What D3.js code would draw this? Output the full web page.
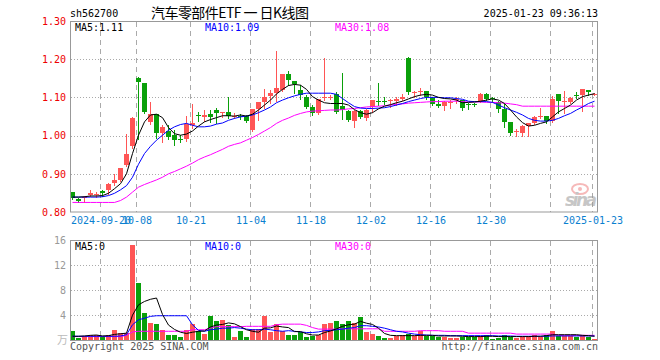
<!DOCTYPE html>
<html>
<head>
<meta charset="utf-8">
<script src="https://cdn.jsdelivr.net/npm/d3@7"></script>
<style>
  body { margin: 0; background: #fff; }
  svg { display: block; }
  text { font-family: "DejaVu Sans Mono", monospace; font-size: 10px; }
</style>
</head>
<body>
<div id="chart"></div>
<script>
// trading days shown on the chart
const dates = [
  "2024-09-12","2024-09-13","2024-09-18","2024-09-19","2024-09-20","2024-09-23","2024-09-24","2024-09-25","2024-09-26","2024-09-27",
  "2024-09-30","2024-10-08","2024-10-09","2024-10-10","2024-10-11","2024-10-14","2024-10-15","2024-10-16","2024-10-17","2024-10-18",
  "2024-10-21","2024-10-22","2024-10-23","2024-10-24","2024-10-25","2024-10-28","2024-10-29","2024-10-30","2024-10-31","2024-11-01",
  "2024-11-04","2024-11-05","2024-11-06","2024-11-07","2024-11-08","2024-11-11","2024-11-12","2024-11-13","2024-11-14","2024-11-15",
  "2024-11-18","2024-11-19","2024-11-20","2024-11-21","2024-11-22","2024-11-25","2024-11-26","2024-11-27","2024-11-28","2024-11-29",
  "2024-12-02","2024-12-03","2024-12-04","2024-12-05","2024-12-06","2024-12-09","2024-12-10","2024-12-11","2024-12-12","2024-12-13",
  "2024-12-16","2024-12-17","2024-12-18","2024-12-19","2024-12-20","2024-12-23","2024-12-24","2024-12-25","2024-12-26","2024-12-27",
  "2024-12-30","2024-12-31","2025-01-02","2025-01-03","2025-01-06","2025-01-07","2025-01-08","2025-01-09","2025-01-10","2025-01-13",
  "2025-01-14","2025-01-15","2025-01-16","2025-01-17","2025-01-20","2025-01-21","2025-01-22","2025-01-23"
];

const open = [
  0.852,0.834,0.838,0.844,0.844,0.856,0.857,0.875,0.884,0.924,
  0.973,1.152,1.138,1.035,1.056,1.007,1.011,1.001,0.992,0.990,
  1.029,1.053,1.050,1.056,1.066,1.059,1.061,1.050,1.052,1.051,
  1.014,1.069,1.088,1.103,1.112,1.119,1.161,1.143,1.119,1.102,
  1.075,1.058,1.098,1.099,1.109,1.077,1.064,1.038,1.064,1.045,
  1.076,1.091,1.091,1.090,1.090,1.096,1.204,1.114,1.114,1.117,
  1.099,1.083,1.077,1.088,1.095,1.093,1.083,1.082,1.090,1.110,
  1.098,1.089,1.070,1.035,1.009,1.008,1.025,1.032,1.050,1.051,
  1.038,1.109,1.088,1.089,1.107,1.106,1.119,1.108
];
const high = [
  0.853,0.836,0.841,0.857,0.852,0.857,0.875,0.900,0.916,1.003,
  1.048,1.153,1.139,1.087,1.057,1.027,1.027,1.014,1.001,1.051,
  1.082,1.062,1.067,1.067,1.071,1.062,1.100,1.058,1.056,1.053,
  1.069,1.089,1.122,1.119,1.222,1.161,1.170,1.143,1.132,1.106,
  1.080,1.095,1.204,1.106,1.115,1.163,1.066,1.067,1.067,1.069,
  1.093,1.139,1.101,1.097,1.101,1.108,1.205,1.116,1.124,1.118,
  1.100,1.092,1.090,1.093,1.100,1.094,1.086,1.085,1.111,1.111,
  1.102,1.090,1.084,1.036,1.018,1.029,1.033,1.052,1.071,1.052,
  1.104,1.110,1.117,1.100,1.115,1.123,1.120,1.112
];
const low = [
  0.835,0.826,0.826,0.842,0.838,0.842,0.847,0.870,0.880,0.920,
  0.968,0.990,1.058,1.030,0.994,0.983,0.992,0.976,0.983,0.987,
  1.020,1.038,1.037,1.036,1.034,1.049,1.046,1.045,1.043,1.035,
  1.011,1.040,1.073,1.085,1.090,1.117,1.132,1.112,1.097,1.071,
  1.053,1.056,1.093,1.096,1.058,1.043,1.037,1.023,1.045,1.040,
  1.062,1.080,1.083,1.075,1.080,1.093,1.110,1.101,1.106,1.096,
  1.080,1.074,1.068,1.071,1.085,1.066,1.070,1.077,1.089,1.092,
  1.087,1.062,1.023,1.001,1.000,1.000,0.999,1.030,1.045,1.032,
  1.036,1.058,1.058,1.085,1.098,1.064,1.106,1.106
];
const close = [
  0.836,0.828,0.840,0.850,0.848,0.849,0.874,0.884,0.915,0.952,
  1.047,1.140,1.063,1.056,1.008,1.023,0.996,0.988,0.991,1.031,
  1.034,1.051,1.053,1.049,1.058,1.061,1.052,1.051,1.050,1.037,
  1.069,1.089,1.101,1.112,1.125,1.161,1.146,1.134,1.106,1.075,
  1.058,1.095,1.100,1.102,1.062,1.068,1.040,1.064,1.049,1.067,
  1.093,1.090,1.089,1.092,1.095,1.102,1.115,1.115,1.116,1.102,
  1.083,1.077,1.087,1.089,1.096,1.071,1.081,1.081,1.110,1.097,
  1.097,1.070,1.035,1.008,1.011,1.025,1.032,1.049,1.052,1.038,
  1.096,1.091,1.090,1.099,1.106,1.122,1.115,1.110
];

// price moving averages as drawn
const ma5 = [
  0.839,0.839,0.840,0.842,0.842,0.843,0.849,0.861,0.874,0.900,
  0.953,1.001,1.036,1.054,1.056,1.047,1.021,1.005,1.001,1.004,
  1.012,1.025,1.036,1.042,1.047,1.052,1.052,1.051,1.054,1.051,
  1.056,1.067,1.080,1.093,1.109,1.121,1.131,1.134,1.132,1.121,
  1.102,1.093,1.086,1.084,1.084,1.084,1.080,1.068,1.060,1.056,
  1.060,1.070,1.077,1.081,1.086,1.090,1.096,1.102,1.106,1.108,
  1.106,1.100,1.097,1.096,1.093,1.086,1.087,1.088,1.090,1.093,
  1.096,1.093,1.084,1.067,1.049,1.034,1.025,1.027,1.032,1.036,
  1.049,1.062,1.071,1.080,1.093,1.102,1.106,1.110
];
const ma10 = [
  0.839,0.839,0.839,0.839,0.839,0.840,0.843,0.849,0.858,0.869,
  0.891,0.925,0.953,0.972,0.988,1.001,1.014,1.023,1.029,1.032,
  1.027,1.023,1.023,1.025,1.030,1.033,1.040,1.045,1.049,1.051,
  1.054,1.060,1.067,1.075,1.086,1.093,1.099,1.104,1.108,1.111,
  1.111,1.111,1.111,1.111,1.108,1.097,1.086,1.076,1.072,1.071,
  1.071,1.072,1.073,1.076,1.080,1.084,1.089,1.093,1.097,1.100,
  1.100,1.100,1.099,1.099,1.097,1.095,1.090,1.089,1.089,1.089,
  1.087,1.080,1.073,1.067,1.061,1.054,1.045,1.040,1.038,1.038,
  1.040,1.045,1.052,1.058,1.067,1.075,1.084,1.090
];
const ma30 = [
  0.825,0.825,0.825,0.825,0.825,0.825,0.825,0.825,0.830,0.839,
  0.852,0.865,0.872,0.878,0.884,0.891,0.900,0.906,0.913,0.920,
  0.928,0.937,0.944,0.950,0.957,0.964,0.972,0.977,0.981,0.988,
  0.995,1.003,1.012,1.021,1.032,1.040,1.046,1.053,1.058,1.062,
  1.064,1.065,1.066,1.067,1.067,1.068,1.070,1.071,1.073,1.075,
  1.076,1.077,1.078,1.080,1.082,1.083,1.085,1.086,1.087,1.088,
  1.089,1.089,1.090,1.090,1.090,1.089,1.088,1.088,1.088,1.087,
  1.087,1.086,1.085,1.083,1.081,1.077,1.077,1.077,1.077,1.077,
  1.077,1.077,1.077,1.077,1.077,1.077,1.077,1.077
];

// volume (万手) and its moving averages
const vol = [
  1.4,0.4,0.6,0.85,0.75,0.45,0.85,1.65,1.2,1.2,
  15.25,9.2,4.4,2.8,2.6,1.55,0.75,0.75,0.55,1.65,
  2.55,1.4,1.0,3.9,3.0,3.25,2.45,0.55,1.5,0.55,
  1.7,1.7,3.9,1.25,2.6,1.4,0.8,0.8,1.25,0.55,
  0.6,0.75,2.6,2.7,3.0,2.6,3.1,2.7,3.75,1.35,
  1.0,0.7,0.4,0.4,0.7,0.85,1.0,0.7,1.5,0.7,
  0.7,0.55,0.55,0.4,0.4,0.55,0.55,0.55,0.7,0.85,
  0.2,0.4,0.85,0.55,0.25,0.55,0.7,0.85,0.55,0.85,
  1.5,0.7,0.7,0.7,0.55,0.85,0.55,0.2
];
const vma5 = [
  0.6,0.6,0.65,0.75,0.8,0.65,0.7,0.9,1.0,1.1,
  4.0,5.65,6.2,6.55,6.75,4.1,2.4,1.7,1.25,1.05,
  1.25,1.4,1.45,2.1,2.4,2.5,2.75,2.6,2.15,1.65,
  1.4,1.25,1.9,1.95,2.25,2.1,2.0,1.35,1.35,1.0,
  0.8,0.8,1.2,1.45,1.8,2.2,2.45,2.55,3.0,2.7,
  2.5,1.9,1.05,0.75,0.7,0.7,0.7,0.7,0.75,0.75,
  0.75,0.65,0.65,0.65,0.65,0.6,0.55,0.55,0.55,0.6,
  0.6,0.55,0.55,0.55,0.55,0.55,0.55,0.6,0.6,0.7,
  0.85,0.85,0.85,0.85,0.85,0.75,0.7,0.6
];
const vma10 = [
  0.6,0.6,0.6,0.6,0.6,0.6,0.6,0.6,0.65,0.85,
  2.45,3.25,3.5,3.8,3.9,3.9,3.9,3.9,3.9,3.9,
  2.45,1.55,1.4,1.65,1.75,1.9,1.9,2.0,1.9,1.75,
  1.65,1.65,1.75,1.65,1.5,1.4,1.5,1.4,1.3,1.2,
  1.2,1.3,1.5,1.55,1.65,1.75,1.9,2.0,2.3,2.3,
  2.2,2.1,1.9,1.65,1.4,1.3,1.1,0.95,0.85,0.8,
  0.75,0.75,0.75,0.7,0.7,0.7,0.7,0.7,0.7,0.7,
  0.7,0.65,0.65,0.65,0.6,0.6,0.6,0.6,0.6,0.6,
  0.65,0.65,0.65,0.65,0.65,0.65,0.65,0.65
];
const vma30 = [
  0.55,0.55,0.55,0.55,0.55,0.55,0.55,0.55,0.55,0.75,
  1.3,1.4,1.4,1.4,1.4,1.4,1.4,1.4,1.4,1.4,
  1.65,1.65,1.65,1.9,2.15,2.15,2.15,2.15,2.15,2.2,
  2.2,2.2,2.2,2.2,2.45,2.55,2.55,2.55,2.55,2.35,
  2.0,1.75,1.75,1.75,1.75,1.8,1.8,1.8,1.8,1.8,
  1.8,1.8,1.4,1.4,1.4,1.4,1.4,1.4,1.5,1.5,
  1.5,1.5,1.4,1.4,1.4,1.4,1.1,1.1,1.1,1.1,
  1.1,1.1,1.1,1.1,0.95,0.95,0.95,0.95,0.95,0.95,
  0.95,0.75,0.75,0.75,0.75,0.75,0.75,0.75
];

const priceTicks = [0.8, 0.9, 1.0, 1.1, 1.2, 1.3];
const volTicks = [4, 8, 12, 16];
const gridDates = ["2024-09-23","2024-10-08","2024-10-21","2024-11-04","2024-11-18","2024-12-02","2024-12-16","2024-12-30","2025-01-14","2025-01-23"];
const tickDates = ["2024-09-23","2024-10-08","2024-10-21","2024-11-04","2024-11-18","2024-12-02","2024-12-16","2024-12-30","2025-01-23"];
const tickLabels = ["2024-09-20","10-08","10-21","11-04","11-18","12-02","12-16","12-30","2025-01-23"];

const W = 660, H = 360;
const RED = "#ff5555", GREEN = "#0aa00a";
const svg = d3.select("#chart").append("svg").attr("width", W).attr("height", H);

const x = d3.scalePoint().domain(dates).range([69.5, 597.5]).padding(0.5);
const y = d3.scaleLinear().domain([0.8, 1.3]).range([212, 21]);
const yv = d3.scaleLinear().domain([0, 16]).range([340, 240.5]);
const crisp = v => Math.round(v) + 0.5;
const gx = d => crisp(x(d) - 2.5);

// header
svg.append("text").attr("x", 70).attr("y", 17).text("sh562700");
svg.append("text").attr("x", 151).attr("y", 18).attr("textLength", 158)
  .attr("xml:space", "preserve")
  .style("font-family", '"Noto Sans CJK SC", sans-serif').style("font-size", "14px")
  .text("汽车零部件ETF 一 日K线图");
svg.append("text").attr("x", 598).attr("y", 17).attr("text-anchor", "end").text("2025-01-23 09:36:13");

// ---- price panel ----
const pg = svg.append("g");
pg.selectAll(".hg").data(priceTicks.slice(1, -1)).enter().append("line")
  .attr("x1", 71).attr("x2", 597).attr("y1", d => crisp(y(d))).attr("y2", d => crisp(y(d)))
  .attr("stroke", "#aaa").attr("stroke-dasharray", "1,2");
pg.selectAll(".vg").data(gridDates).enter().append("line")
  .attr("x1", gx).attr("x2", gx).attr("y1", 22).attr("y2", 212)
  .attr("stroke", "#aaa").attr("stroke-dasharray", "5,4");

// sina watermark
const wm = svg.append("g").attr("opacity", 0.55);
wm.append("ellipse").attr("cx", 580).attr("cy", 189).attr("rx", 8).attr("ry", 5)
  .attr("fill", "none").attr("stroke", "#f08080").attr("stroke-width", 2);
wm.append("circle").attr("cx", 580).attr("cy", 189).attr("r", 2).attr("fill", "#f08080");
wm.append("text").attr("x", 565).attr("y", 206).attr("textLength", 32)
  .style("font-family", "DejaVu Sans, sans-serif").style("font-size", "17px")
  .style("font-style", "italic").style("font-weight", "bold").attr("fill", "#999").text("sina");

const yAxis = d3.axisLeft(y).tickValues(priceTicks).tickSize(0).tickPadding(4).tickFormat(d3.format(".2f"));
const ya = svg.append("g").attr("transform", "translate(70,0)").call(yAxis);
ya.select(".domain").remove();
ya.selectAll("text").attr("fill", "#e00").style("font-family", '"DejaVu Sans Mono", monospace').style("font-size", "10px");

const xAxis = d3.axisBottom(x).tickValues(tickDates).tickSize(0).tickPadding(1)
  .tickFormat(d => tickLabels[tickDates.indexOf(d)]);
const xa = svg.append("g").attr("transform", "translate(-2,216)").call(xAxis);
xa.select(".domain").remove();
xa.selectAll("text").attr("fill", "#0a80d0").style("font-family", '"DejaVu Sans Mono", monospace').style("font-size", "10px");

// candles
const idx = d3.range(dates.length);
const cg = svg.append("g");
cg.selectAll("line").data(idx).enter().append("line")
  .attr("x1", i => Math.floor(x(dates[i])) + 0.5).attr("x2", i => Math.floor(x(dates[i])) + 0.5)
  .attr("y1", i => Math.round(y(high[i]))).attr("y2", i => Math.round(y(low[i])) + 1)
  .attr("stroke", i => close[i] >= open[i] ? RED : GREEN);
cg.selectAll("rect").data(idx).enter().append("rect")
  .attr("x", i => Math.round(x(dates[i]) - 2.5)).attr("width", 5)
  .attr("y", i => Math.round(y(Math.max(open[i], close[i]))))
  .attr("height", i => Math.max(1, Math.round(y(Math.min(open[i], close[i]))) - Math.round(y(Math.max(open[i], close[i])))))
  .attr("fill", i => close[i] >= open[i] ? RED : GREEN);

const priceLine = arr => d3.line().x(i => x(dates[i])).y(i => y(arr[i]))(idx);
[[ma30, "#ff00ff"], [ma10, "#0000ff"], [ma5, "#000"]].forEach(([arr, col]) => {
  svg.append("path").attr("d", priceLine(arr)).attr("fill", "none").attr("stroke", col).attr("stroke-width", 1);
});

svg.append("rect").attr("x", 70.5).attr("y", 21.5).attr("width", 527).attr("height", 190.5)
  .attr("fill", "none").attr("stroke", "#999");
svg.append("text").attr("x", 75).attr("y", 31).attr("fill", "#000").text("MA5:1.11");
svg.append("text").attr("x", 205).attr("y", 31).attr("fill", "#0000ff").text("MA10:1.09");
svg.append("text").attr("x", 335).attr("y", 31).attr("fill", "#ff00ff").text("MA30:1.08");

// ---- volume panel ----
svg.selectAll(".vhg").data(volTicks.slice(0, -1)).enter().append("line")
  .attr("x1", 71).attr("x2", 597).attr("y1", d => crisp(yv(d))).attr("y2", d => crisp(yv(d)))
  .attr("stroke", "#aaa").attr("stroke-dasharray", "1,2");
svg.selectAll(".vvg").data(gridDates).enter().append("line")
  .attr("x1", gx).attr("x2", gx).attr("y1", 241).attr("y2", 340)
  .attr("stroke", "#aaa").attr("stroke-dasharray", "5,4");

svg.append("g").selectAll("rect").data(idx).enter().append("rect")
  .attr("x", i => Math.round(x(dates[i]) - 2.5)).attr("width", 5)
  .attr("y", i => Math.round(yv(vol[i])))
  .attr("height", i => 340 - Math.round(yv(vol[i])))
  .attr("fill", i => close[i] >= open[i] ? RED : GREEN);

const volLine = arr => d3.line().x(i => x(dates[i])).y(i => yv(arr[i]))(idx);
[[vma30, "#ff00ff"], [vma10, "#0000ff"], [vma5, "#000"]].forEach(([arr, col]) => {
  svg.append("path").attr("d", volLine(arr)).attr("fill", "none").attr("stroke", col).attr("stroke-width", 1);
});

svg.append("rect").attr("x", 70.5).attr("y", 240.5).attr("width", 527).attr("height", 100)
  .attr("fill", "none").attr("stroke", "#999");

const va = svg.append("g").attr("transform", "translate(70,0)")
  .call(d3.axisLeft(yv).tickValues(volTicks).tickSize(0).tickPadding(4));
va.select(".domain").remove();
va.selectAll("text").attr("fill", "#999").style("font-family", '"DejaVu Sans Mono", monospace').style("font-size", "10px");
svg.append("text").attr("x", 57).attr("y", 344).attr("fill", "#bbb")
  .style("font-family", '"Noto Sans CJK SC", sans-serif').style("font-size", "11px").text("万");

svg.append("text").attr("x", 75).attr("y", 250).attr("fill", "#000").text("MA5:0");
svg.append("text").attr("x", 205).attr("y", 250).attr("fill", "#0000ff").text("MA10:0");
svg.append("text").attr("x", 335).attr("y", 250).attr("fill", "#ff00ff").text("MA30:0");

svg.append("text").attr("x", 70).attr("y", 350).attr("fill", "#555").text("Copyright 2025 SINA.COM");
svg.append("text").attr("x", 598).attr("y", 350).attr("text-anchor", "end").attr("fill", "#555").text("http://finance.sina.com.cn");
</script>
</body>
</html>
